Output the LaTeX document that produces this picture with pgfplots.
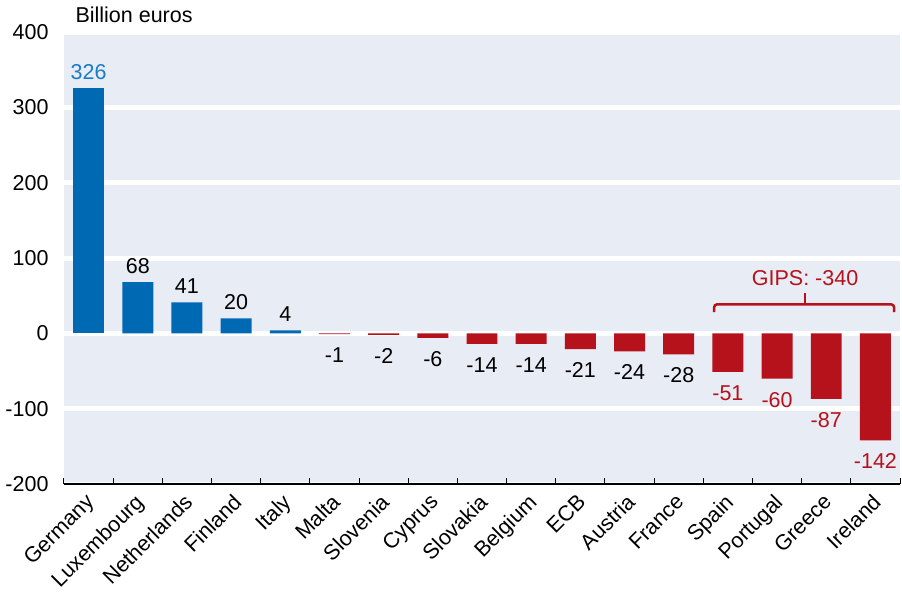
\documentclass[border=0pt]{standalone}
\usepackage{fontspec}
\setmainfont{Liberation Sans}
\usepackage{pgfplots}
\pgfplotsset{compat=1.18}
\definecolor{bgc}{HTML}{E8ECF5}
\definecolor{barblue}{HTML}{0069B4}
\definecolor{lblblue}{HTML}{1B7BC4}
\definecolor{barred}{HTML}{B5121B}
\newcommand{\cfont}{\fontsize{21.5bp}{25bp}\selectfont}
\begin{document}
\begin{tikzpicture}
\useasboundingbox (-64bp,-108bp) rectangle (838bp,484bp);
\begin{axis}[
  at={(0,0)}, anchor=south west,
  scale only axis, width=836bp, height=452bp,
  xmin=-0.5, xmax=16.5, ymin=-200, ymax=400,
  ytick={-200,-100,...,400},
  xtick={0,...,16},
  xticklabels={Germany,Luxembourg,Netherlands,Finland,Italy,Malta,Slovenia,Cyprus,Slovakia,Belgium,ECB,Austria,France,Spain,Portugal,Greece,Ireland},
  minor xtick={-0.5,0.5,...,16.5},
  axis x line*=bottom, axis y line*=left,
  x axis line style={-, black, line width=1.3bp},
  y axis line style={draw=none},
  major tick length=0pt, minor tick length=6bp,
  tick align=inside,
  minor tick style={black, line width=1bp},
  ymajorgrids, major grid style={white, line width=5bp},
  axis background/.style={fill=bgc},
  /pgf/number format/assume math mode=true,
  tick label style={font=\cfont},
  yticklabel style={xshift=-12bp},
  xticklabel style={rotate=45, anchor=north east, inner sep=0pt, xshift=-9bp, yshift=-3bp},
  clip=false,
  nodes near coords style={font=\cfont},
]
\addplot[ybar, bar shift=0pt, bar width=0.63, fill=barblue, draw=none,
  nodes near coords, every node near coord/.append style={text=lblblue, yshift=5bp}]
  coordinates {(0,326)};
\addplot[ybar, bar shift=0pt, bar width=0.63, fill=barblue, draw=none,
  nodes near coords, every node near coord/.append style={text=black, yshift=5bp}]
  coordinates {(1,68) (2,41) (3,20) (4,4)};
\addplot[ybar, bar shift=0pt, bar width=0.63, fill=barred, draw=none,
  nodes near coords, every node near coord/.append style={text=black, yshift=-10bp}]
  coordinates {(5,-1) (6,-2) (7,-6) (8,-14) (9,-14) (10,-21) (11,-24) (12,-28)};
\addplot[ybar, bar shift=0pt, bar width=0.63, fill=barred, draw=none,
  nodes near coords, every node near coord/.append style={text=barred, yshift=-10bp}]
  coordinates {(13,-51) (14,-60) (15,-87) (16,-142)};
\draw[barred, line width=2.5bp, rounded corners=3bp]
  (axis cs:12.72,28) -- (axis cs:12.72,38.5) -- (axis cs:16.38,38.5) -- (axis cs:16.38,28);
\draw[barred, line width=2.5bp] (axis cs:14.57,38.5) -- (axis cs:14.57,53);
\node[text=barred, font=\cfont] at (axis cs:14.57,73) {GIPS: -340};
\node[anchor=west, font=\cfont, xshift=8bp, yshift=17bp] at (rel axis cs:0,1) {Billion euros};
\end{axis}
\end{tikzpicture}
\end{document}
